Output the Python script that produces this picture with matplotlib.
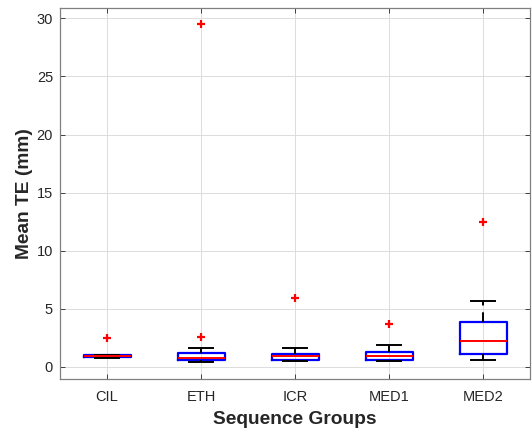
import matplotlib
matplotlib.use("Agg")
import matplotlib.pyplot as plt

plt.rcParams['font.family'] = ['Liberation Sans', 'DejaVu Sans']

groups = ["CIL", "ETH", "ICR", "MED1", "MED2"]
q1 = [0.86, 0.55, 0.58, 0.60, 1.12]
med = [0.95, 0.72, 0.88, 0.96, 2.20]
q3 = [1.05, 1.21, 1.13, 1.29, 3.87]
whislo = [0.72, 0.39, 0.52, 0.47, 0.58]
whishi = [1.05, 1.58, 1.58, 1.91, 5.62]
outliers = [[2.43], [2.53, 29.5], [5.92], [3.65], [12.49]]

stats = []
for i, g in enumerate(groups):
    stats.append(dict(label=g, q1=q1[i], med=med[i], q3=q3[i],
                      whislo=whislo[i], whishi=whishi[i], fliers=outliers[i]))

fig = plt.figure(figsize=(5.32, 4.29), dpi=100)
ax = fig.add_axes([60/532, 50/429, 470/532, 371/429])

ax.bxp(stats, positions=range(1, 6), widths=0.5, capwidths=0.25,
       boxprops=dict(color='#0000ff', linewidth=1.6),
       medianprops=dict(color='#ff0000', linewidth=1.4),
       whiskerprops=dict(color='black', linewidth=1.4, linestyle=(0, (5, 3.5))),
       capprops=dict(color='black', linewidth=1.4),
       flierprops=dict(marker='+', markeredgecolor='#ff0000', markersize=6,
                       markeredgewidth=1.6, linestyle='none'),
       zorder=3)

ax.set_xlim(0.5, 5.5)
ax.set_ylim(-1.06, 30.9)
ax.set_yticks([0, 5, 10, 15, 20, 25, 30])
ax.set_xticks(range(1, 6))
ax.set_xticklabels(groups)

ax.grid(True, color='#dcdcdc', linewidth=0.7, zorder=0)
ax.set_axisbelow(True)

for s in ax.spines.values():
    s.set_color('#808080')
    s.set_linewidth(0.9)

ax.tick_params(axis='both', direction='in', length=3.5, width=0.7,
               color='#404040', labelsize=10.5, labelcolor='#262626',
               top=True, right=True)
ax.tick_params(axis='x', pad=8)
ax.tick_params(axis='y', pad=5)

ax.set_xlabel("Sequence Groups", fontsize=13.8, fontweight='bold', color='#262626', labelpad=5)
ax.set_ylabel("Mean TE (mm)", fontsize=13.8, fontweight='bold', color='#262626', labelpad=3)

fig.savefig("out.png", dpi=100)
